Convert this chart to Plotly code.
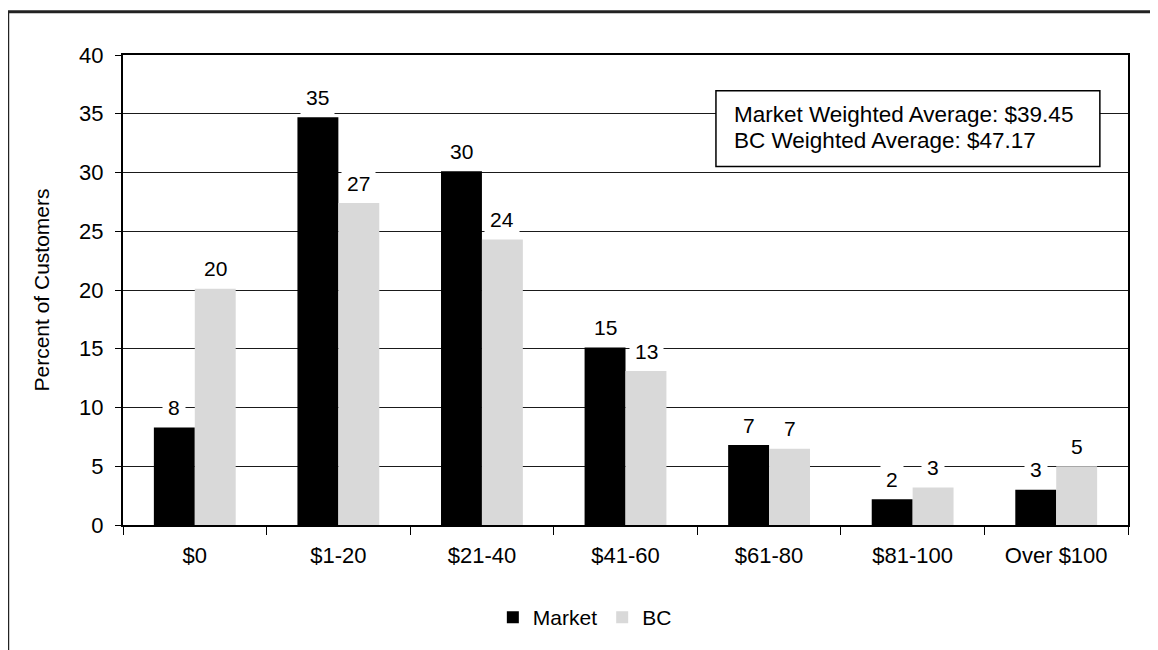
import plotly.graph_objects as go

categories = ["$0", "$1-20", "$21-40", "$41-60", "$61-80", "$81-100", "Over $100"]
market = [8.3, 34.7, 30.1, 15.1, 6.8, 2.2, 3.0]
bc = [20.1, 27.4, 24.3, 13.1, 6.5, 3.2, 5.0]
market_labels = ["8", "35", "30", "15", "7", "2", "3"]
bc_labels = ["20", "27", "24", "13", "7", "3", "5"]
y_ticks = [0, 5, 10, 15, 20, 25, 30, 35, 40]
note_lines = ["Market Weighted Average: $39.45", "BC Weighted Average: $47.17"]

FONT = "Arial, Liberation Sans, sans-serif"

fig = go.Figure()
fig.add_trace(go.Bar(name="Market", x=categories, y=market, marker=dict(color="#000000", line=dict(width=0))))
fig.add_trace(go.Bar(name="BC", x=categories, y=bc, marker=dict(color="#d9d9d9", line=dict(width=0))))

annotations = []
for cat, v, t in zip(categories, market, market_labels):
    annotations.append(dict(x=cat, y=v, text=t, showarrow=False, xref="x", yref="y",
                            xshift=-20.5, yshift=20, yanchor="middle",
                            bgcolor="white", borderpad=5,
                            font=dict(family=FONT, size=21, color="black")))
for cat, v, t in zip(categories, bc, bc_labels):
    annotations.append(dict(x=cat, y=v, text=t, showarrow=False, xref="x", yref="y",
                            xshift=20.5, yshift=20, yanchor="middle",
                            bgcolor="white", borderpad=5,
                            font=dict(family=FONT, size=21, color="black")))

# weighted average note text
for line, ypos in zip(note_lines, [0.873, 0.818]):
    annotations.append(dict(x=0.6057, y=ypos, xref="paper", yref="paper", xanchor="left", yanchor="middle",
                            align="left", showarrow=False, text=line,
                            font=dict(family=FONT, size=22.5, color="black")))

shapes = [
    # note box
    dict(type="rect", xref="paper", yref="paper", x0=0.590, x1=0.972, y0=0.763, y1=0.924,
         fillcolor="white", line=dict(color="black", width=1.5), layer="above"),
    # outer frame
    dict(type="rect", xref="paper", yref="paper", x0=-0.1147, x1=1.3, y0=-0.6, y1=1.0922,
         line=dict(color="#222222", width=3), fillcolor="rgba(0,0,0,0)", layer="above"),
]

fig.update_layout(
    width=1150, height=642,
    margin=dict(l=115, r=30, t=47, b=123),
    paper_bgcolor="white", plot_bgcolor="white",
    barmode="group", bargap=0.43, bargroupgap=0,
    font=dict(family=FONT, size=22, color="black"),
    showlegend=True,
    legend=dict(orientation="h", x=0.368, y=-0.197, xanchor="left", yanchor="middle",
                font=dict(family=FONT, size=21, color="black"), itemsizing="constant",
                bgcolor="rgba(0,0,0,0)"),
    annotations=annotations,
    shapes=shapes,
)
fig.update_yaxes(range=[0, 40], tickvals=y_ticks, ticks="outside", ticklen=6, tickcolor="black",
                 showgrid=True, gridcolor="#1a1a1a", gridwidth=1,
                 showline=True, linecolor="black", linewidth=2, mirror=True,
                 zeroline=False, ticklabelstandoff=7,
                 title=dict(text="Percent of Customers", font=dict(family=FONT, size=21), standoff=24),
                 tickfont=dict(family=FONT, size=22, color="black"))
fig.update_xaxes(ticks="outside", ticklen=8, tickcolor="black", tickson="boundaries",
                 showline=True, linecolor="black", linewidth=2, mirror=True,
                 showgrid=False, ticklabelstandoff=10,
                 tickfont=dict(family=FONT, size=22, color="black"))

fig.write_html("out.html")
